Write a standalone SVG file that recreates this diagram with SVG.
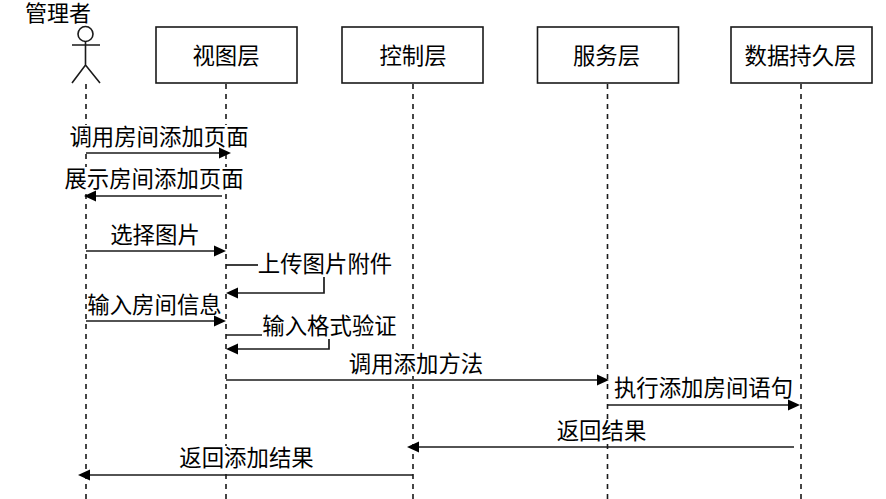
<svg xmlns="http://www.w3.org/2000/svg" width="886" height="499" viewBox="0 0 886 499">
<style>
text{font-family:"Noto Sans CJK SC","Noto Sans",sans-serif;font-size:22.4px;fill:#000;text-anchor:middle;dominant-baseline:central}
text.top{font-family:"Liberation Sans","Noto Sans CJK SC",sans-serif;font-size:22px;dominant-baseline:auto}
.box{fill:#fff;stroke:#1a1a1a;stroke-width:1.6}
.life{fill:none;stroke:#1a1a1a;stroke-width:1.6;stroke-dasharray:5 5}
.msg{fill:none;stroke:#1a1a1a;stroke-width:1.7}
.head{fill:#000;stroke:none}
.bg{fill:#fff}
.act{fill:#fff;stroke:#1a1a1a;stroke-width:1.6}
</style>
<rect width="886" height="499" fill="#fff"/>
<g id="lifelines">
<path class="life" d="M86 84V499M226 84V499M413 84V499M607.500 84V499M801 84V499"/>
</g>
<g id="node-admin">
<circle class="act" cx="85.500" cy="34" r="7.500"/>
<path class="act" style="fill:none" d="M85.500 41.500V65M72 45H100M72 83L85.500 65L100 83"/>
<text class="top" x="58" y="21">管理者</text>
</g>
<g id="node-view"><rect class="box" x="156" y="27" width="141" height="56"/><text x="226" y="54">视图层</text></g>
<g id="node-control"><rect class="box" x="342" y="27" width="141" height="56"/><text x="413" y="54">控制层</text></g>
<g id="node-service"><rect class="box" x="537.500" y="27" width="141" height="56"/><text x="606.500" y="54">服务层</text></g>
<g id="node-data"><rect class="box" x="731" y="27" width="141" height="56"/><text x="800.500" y="54">数据持久层</text></g>
<g id="connectors">
<rect class="bg" x="70" y="125" width="179" height="24"/>
<path class="msg" d="M86 153H220"/><path class="head" d="M231 153L219 147.500V158.500Z"/>
<rect class="bg" x="64" y="167" width="180" height="24"/>
<path class="msg" d="M222 196H94"/><path class="head" d="M84 196L96 190.500V201.500Z"/>
<rect class="bg" x="110" y="223" width="91" height="23"/>
<path class="msg" d="M86 251H215"/><path class="head" d="M226 251L214 245.500V256.500Z"/>
<path class="msg" d="M226 265H258"/>
<rect class="bg" x="258" y="252" width="135" height="24"/>
<path class="msg" d="M324 277V293H236"/><path class="head" d="M226 293L238 287.500V298.500Z"/>
<rect class="bg" x="87" y="293" width="135" height="24"/>
<path class="msg" d="M86 321H215"/><path class="head" d="M226 321L214 315.500V326.500Z"/>
<path class="msg" d="M226 335H262"/>
<rect class="bg" x="262" y="314" width="135" height="24"/>
<path class="msg" d="M329 339V349H236"/><path class="head" d="M226 349L238 343.500V354.500Z"/>
<rect class="bg" x="349" y="352" width="135" height="24"/>
<path class="msg" d="M226 380H599"/><path class="head" d="M609 380L597 374.500V385.500Z"/>
<rect class="bg" x="613" y="376" width="181" height="24"/>
<path class="msg" d="M608 405H790"/><path class="head" d="M800 405L788 399.500V410.500Z"/>
<rect class="bg" x="557" y="419" width="90" height="24"/>
<path class="msg" d="M794 447H417"/><path class="head" d="M407 447L419 441.500V452.500Z"/>
<rect class="bg" x="179" y="446" width="135" height="24"/>
<path class="msg" d="M413 475H88"/><path class="head" d="M78 475L90 469.500V480.500Z"/>
<text x="159" y="135">调用房间添加页面</text>
<text x="154" y="177">展示房间添加页面</text>
<text x="155" y="233">选择图片</text>
<text x="325" y="262">上传图片附件</text>
<text x="154.500" y="303">输入房间信息</text>
<text x="329.500" y="324">输入格式验证</text>
<text x="416" y="362">调用添加方法</text>
<text x="703.500" y="386">执行添加房间语句</text>
<text x="601.500" y="429">返回结果</text>
<text x="246.500" y="456">返回添加结果</text>
</g>
</svg>
